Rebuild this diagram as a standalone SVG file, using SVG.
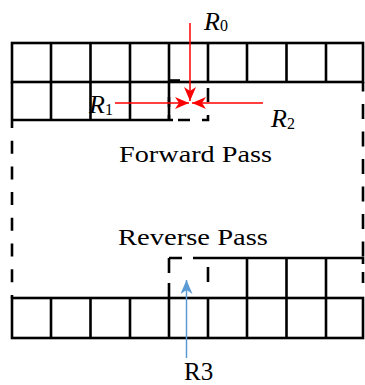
<svg xmlns="http://www.w3.org/2000/svg" width="365" height="385" viewBox="0 0 365 385">
  <style>
    .g{stroke:#000;stroke-width:2.6;fill:none;stroke-linecap:butt}
    .d{stroke:#000;stroke-width:2.6;fill:none}
    .red{stroke:#ff0000;stroke-width:1.5;fill:none}
    .blue{stroke:#5b9bd5;stroke-width:1.5;fill:none}
    .t{font-family:"Liberation Serif","Times New Roman",serif;fill:#000}
  </style>
  <defs>
    <marker id="ar" markerUnits="userSpaceOnUse" viewBox="0 0 14 12" markerWidth="14" markerHeight="12" refX="14" refY="6" orient="auto">
      <path d="M0,0 L14,6 L0,12 L4,6 z" fill="#ff0000"/>
    </marker>
    <marker id="ab" markerUnits="userSpaceOnUse" viewBox="0 0 14 12" markerWidth="14" markerHeight="12" refX="14" refY="6" orient="auto">
      <path d="M0,0 L14,6 L0,12 L4,6 z" fill="#5b9bd5"/>
    </marker>
  </defs>
  <rect width="365" height="385" fill="#fff"/>

  <g id="top-grid">
    <rect class="g" x="12" y="43" width="351" height="39"/>
    <path class="g" d="M51,43V82 M90.5,43V82 M130,43V82 M169,43V82 M208,43V82 M247,43V82 M286.5,43V82 M326,43V82"/>
    <path class="g" d="M12,82V121 M51,82V121 M90.5,82V121 M130,82V121 M169,82V121 M12,120H169"/>
    <path class="g" d="M169,80.5H180"/>
  </g>

  <g id="cell-r0">
    <path class="d" d="M169,97V107 M169,115V121 M208,88V102 M208,115V121 M169,120H173 M178,120H190 M202,120H209.3"/>
  </g>

  <g id="boundary">
    <path class="d" d="M12,121V298" stroke-dasharray="13 12.7" stroke-dashoffset="6"/>
    <path class="d" d="M363,82V258" stroke-dasharray="15 12.5" stroke-dashoffset="5.5"/>
  </g>

  <g id="cell-r3">
    <path class="d" d="M169,258H182 M193,258H208 M169,258V273 M169,283V298 M208,267V282"/>
  </g>

  <g id="bottom-grid">
    <path class="g" d="M208,258H364.3 M363,256.7V264 M363,272V283 M247,258V298 M286.5,258V298 M326,258V298"/>
    <rect class="g" x="12" y="298" width="351" height="40"/>
    <path class="g" d="M51,298V338 M90.5,298V338 M130,298V338 M169,298V338 M208,298V338 M247,298V338 M286.5,298V338 M326,298V338"/>
  </g>

  <g id="connectors">
    <line class="red" x1="190" y1="23" x2="190" y2="101" marker-end="url(#ar)"/>
    <line class="red" x1="115" y1="103" x2="189" y2="103" marker-end="url(#ar)"/>
    <line class="red" x1="263" y1="103" x2="192" y2="103" marker-end="url(#ar)"/>
    <line class="blue" x1="186.5" y1="358" x2="186.5" y2="280" marker-end="url(#ab)"/>
  </g>

  <g id="labels">
    <text class="t" x="204" y="30" font-size="26"><tspan font-style="italic">R</tspan><tspan font-size="16" dy="1">0</tspan></text>
    <text class="t" x="89" y="113" font-size="26"><tspan font-style="italic">R</tspan><tspan font-size="16" dy="2">1</tspan></text>
    <text class="t" x="271" y="127" font-size="26"><tspan font-style="italic">R</tspan><tspan font-size="16" dy="2">2</tspan></text>
    <text class="t" x="119" y="162" font-size="23" textLength="153" lengthAdjust="spacingAndGlyphs">Forward Pass</text>
    <text class="t" x="118" y="245" font-size="23" textLength="150" lengthAdjust="spacingAndGlyphs">Reverse Pass</text>
    <text class="t" x="184" y="380" font-size="25">R3</text>
  </g>
</svg>
